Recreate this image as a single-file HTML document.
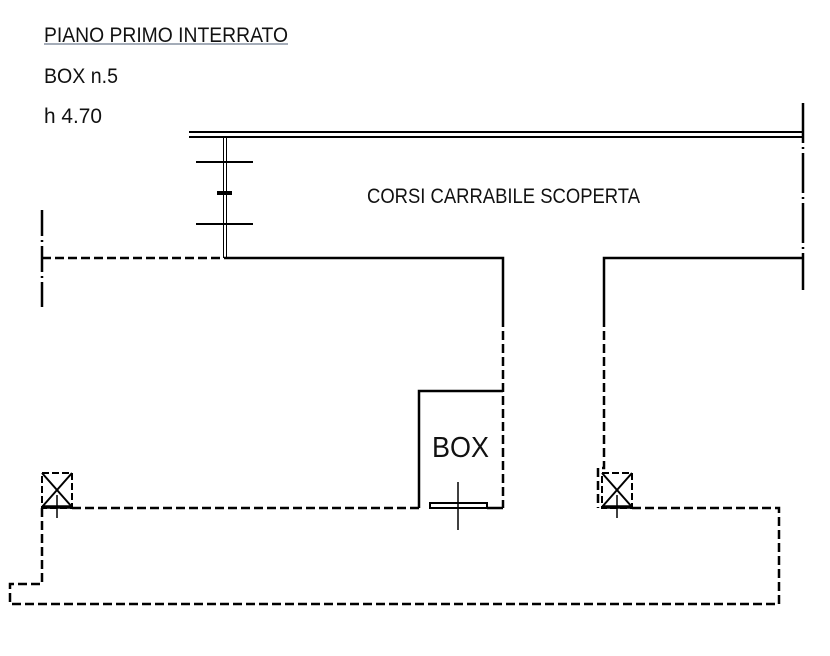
<!DOCTYPE html>
<html><head><meta charset="utf-8"><style>html,body{margin:0;padding:0;background:#fff}svg{display:block}</style></head>
<body>
<svg width="830" height="656" viewBox="0 0 830 656" xmlns="http://www.w3.org/2000/svg" font-family="Liberation Sans, sans-serif" fill="none" stroke="#000">
<g fill="#111" stroke="none" font-size="21">
<text x="44" y="42" textLength="244" lengthAdjust="spacingAndGlyphs">PIANO PRIMO INTERRATO</text>
<text x="44" y="83" textLength="74" lengthAdjust="spacingAndGlyphs">BOX n.5</text>
<text x="44" y="123" textLength="58" lengthAdjust="spacingAndGlyphs">h 4.70</text>
<text x="367" y="203" textLength="273" lengthAdjust="spacingAndGlyphs">CORSI CARRABILE SCOPERTA</text>
<text x="432" y="457" font-size="29" textLength="57" lengthAdjust="spacingAndGlyphs">BOX</text>
</g>
<line x1="44" y1="44" x2="288" y2="44" stroke="#4a5a70" stroke-width="1"/>
<line x1="189" y1="132" x2="803" y2="132" stroke-width="2"/>
<line x1="189" y1="137" x2="803" y2="137" stroke-width="2"/>
<line x1="803" y1="103" x2="803" y2="290" stroke-width="2.5" stroke-dasharray="40,4,2,4"/>
<line x1="42" y1="210" x2="42" y2="307" stroke-width="2.5" stroke-dasharray="26,4,2,4"/>
<line x1="223.5" y1="137" x2="223.5" y2="258" stroke-width="1"/>
<line x1="226.5" y1="137" x2="226.5" y2="258" stroke-width="1"/>
<line x1="196" y1="162" x2="253" y2="162" stroke-width="2"/>
<line x1="196" y1="224" x2="253" y2="224" stroke-width="2"/>
<line x1="217" y1="193" x2="232" y2="193" stroke-width="4"/>
<line x1="42" y1="258" x2="222" y2="258" stroke-width="2.5" stroke-dasharray="9,4"/>
<polyline points="224,258 503,258 503,318" stroke-width="2.5"/>
<line x1="503" y1="318" x2="503" y2="508" stroke-width="2.5" stroke-dasharray="9,4"/>
<polyline points="803,258 604,258 604,318" stroke-width="2.5"/>
<polyline points="604,318 604,468 598,468 598,508" stroke-width="2.5" stroke-dasharray="9,4"/>
<polyline points="503,391 419,391 419,508" stroke-width="2.5"/>
<rect x="430" y="503" width="57" height="5" stroke-width="2"/>
<line x1="458" y1="482" x2="458" y2="530" stroke-width="1.5"/>
<polyline points="72,508 419,508" stroke-width="2.5" stroke-dasharray="9,4"/>
<polyline points="487,508 503,508" stroke-width="2.5"/>
<polyline points="632,508 779,508 779,604 10,604 10,584 42,584 42,508" stroke-width="2.5" stroke-dasharray="9,4"/>
<g stroke-width="2">
<rect x="42" y="473" width="30" height="35" stroke-dasharray="7,3"/>
<line x1="42" y1="473" x2="72" y2="507"/><line x1="72" y1="473" x2="42" y2="507"/>
<line x1="42" y1="507" x2="72" y2="507" stroke-width="3.5"/>
<line x1="57" y1="495" x2="57" y2="518" stroke-width="1.5"/>
<rect x="602" y="473" width="30" height="35" stroke-dasharray="7,3"/>
<line x1="602" y1="473" x2="632" y2="507"/><line x1="632" y1="473" x2="602" y2="507"/>
<line x1="602" y1="507" x2="632" y2="507" stroke-width="3.5"/>
<line x1="617" y1="495" x2="617" y2="518" stroke-width="1.5"/>
</g>
</svg>
</body></html>
